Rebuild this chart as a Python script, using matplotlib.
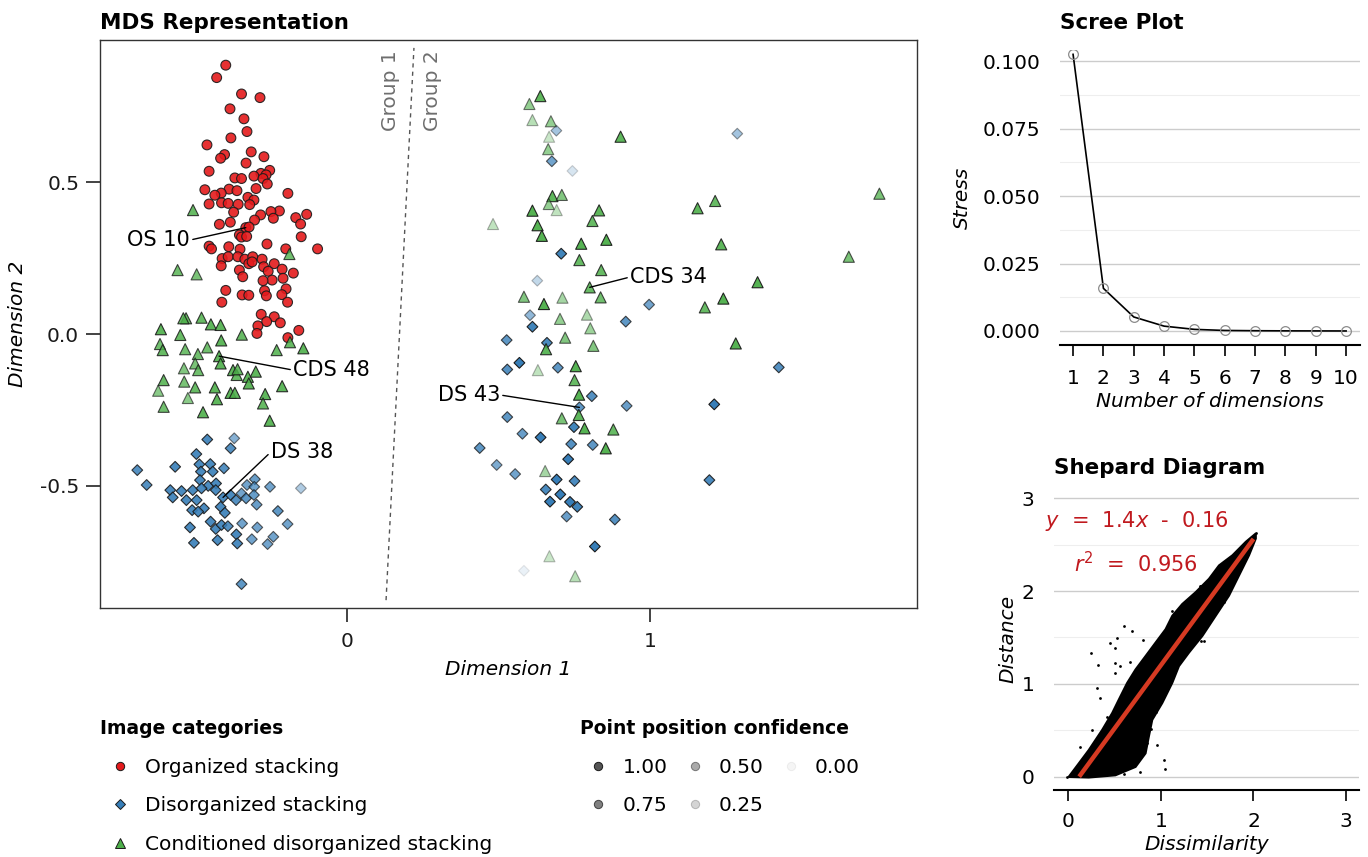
import matplotlib
matplotlib.use("Agg")
import matplotlib.pyplot as plt
from matplotlib.colors import to_rgba
from matplotlib.lines import Line2D
from matplotlib.ticker import MultipleLocator

plt.rcParams['font.family'] = ['DejaVu Sans']
plt.rcParams['mathtext.fontset'] = 'dejavusans'
plt.rcParams['axes.unicode_minus'] = False

# ---- MDS coordinates ----
os_x = [-0.400, -0.430, -0.348, -0.287, -0.386, -0.340, -0.330, -0.383, -0.462, -0.316,
        -0.404, -0.417, -0.274, -0.333, -0.455, -0.255, -0.284, -0.267, -0.370, -0.348,
        -0.307, -0.277, -0.263, -0.469, -0.389, -0.363, -0.300, -0.415, -0.436, -0.327,
        -0.307, -0.195, -0.455, -0.414, -0.392, -0.359, -0.321, -0.374, -0.223, -0.251,
        -0.285, -0.305, -0.243, -0.169, -0.133, -0.153, -0.421, -0.385, -0.334, -0.323,
        -0.355, -0.348, -0.331, -0.151, -0.264, -0.097, -0.455, -0.447, -0.390, -0.353,
        -0.202, -0.412, -0.392, -0.360, -0.337, -0.311, -0.324, -0.313, -0.280, -0.240,
        -0.415, -0.275, -0.260, -0.214, -0.177, -0.355, -0.344, -0.247, -0.277, -0.211,
        -0.400, -0.346, -0.324, -0.272, -0.266, -0.201, -0.215, -0.413, -0.196, -0.283,
        -0.240, -0.265, -0.220, -0.294, -0.297, -0.159, -0.195]
os_y = [0.887, 0.846, 0.792, 0.780, 0.743, 0.710, 0.668, 0.647, 0.624, 0.601,
        0.592, 0.580, 0.585, 0.564, 0.537, 0.540, 0.530, 0.525, 0.515, 0.513,
        0.521, 0.513, 0.495, 0.476, 0.478, 0.473, 0.480, 0.465, 0.458, 0.451,
        0.442, 0.464, 0.429, 0.433, 0.431, 0.428, 0.427, 0.402, 0.406, 0.404,
        0.393, 0.376, 0.382, 0.384, 0.395, 0.363, 0.362, 0.369, 0.351, 0.353,
        0.327, 0.320, 0.322, 0.321, 0.297, 0.281, 0.290, 0.281, 0.288, 0.280,
        0.281, 0.249, 0.255, 0.255, 0.247, 0.255, 0.232, 0.238, 0.247, 0.232,
        0.225, 0.222, 0.207, 0.214, 0.201, 0.211, 0.189, 0.178, 0.176, 0.184,
        0.144, 0.129, 0.128, 0.143, 0.126, 0.149, 0.130, 0.105, 0.105, 0.065,
        0.057, 0.041, 0.037, 0.027, 0.002, 0.012, -0.012]
os_conf = [0.9] * len(os_x)

ds_x = [-0.461, -0.384, -0.372, -0.497, -0.692, -0.567, -0.487, -0.451, -0.406, -0.482,
        -0.443, -0.661, -0.485, -0.458, -0.432, -0.433, -0.583, -0.546, -0.509, -0.480,
        -0.575, -0.530, -0.496, -0.409, -0.384, -0.366, -0.348, -0.330, -0.304, -0.306,
        -0.254, -0.152, -0.333, -0.307, -0.298, -0.417, -0.511, -0.472, -0.491, -0.403,
        -0.228, -0.196, -0.518, -0.450, -0.433, -0.414, -0.393, -0.346, -0.296, -0.243,
        -0.365, -0.505, -0.427, -0.362, -0.314, -0.262, -0.348,
        0.691, 0.676, 0.744, 1.288, 0.707, 0.628, 0.997, 0.604, 0.920, 0.612,
        0.527, 0.660, 0.569, 0.529, 0.696, 1.425, 0.808, 0.767, 0.923, 1.212,
        0.529, 0.749, 0.579, 0.639, 0.740, 0.811, 0.438, 0.730, 0.494, 0.555,
        0.692, 0.751, 1.196, 0.656, 0.704, 0.670, 0.736, 0.760, 0.725, 0.884,
        0.818, 0.584]
ds_y = [-0.348, -0.377, -0.344, -0.396, -0.449, -0.438, -0.430, -0.429, -0.443, -0.454,
        -0.454, -0.498, -0.482, -0.501, -0.493, -0.515, -0.515, -0.518, -0.515, -0.509,
        -0.539, -0.548, -0.548, -0.539, -0.531, -0.548, -0.526, -0.498, -0.479, -0.504,
        -0.504, -0.509, -0.542, -0.531, -0.563, -0.570, -0.581, -0.575, -0.586, -0.590,
        -0.584, -0.627, -0.638, -0.619, -0.643, -0.630, -0.634, -0.625, -0.638, -0.669,
        -0.661, -0.689, -0.680, -0.691, -0.677, -0.693, -0.825,
        0.671, 0.570, 0.538, 0.661, 0.265, 0.176, 0.097, 0.062, 0.041, 0.024,
        -0.020, -0.029, -0.095, -0.117, -0.111, -0.110, -0.205, -0.242, -0.237, -0.232,
        -0.274, -0.307, -0.329, -0.341, -0.363, -0.366, -0.376, -0.413, -0.432, -0.462,
        -0.480, -0.485, -0.482, -0.513, -0.529, -0.553, -0.554, -0.570, -0.602, -0.612,
        -0.701, -0.781]
ds_conf = [0.9, 0.85, 0.6, 0.9, 0.85, 0.9, 0.9, 0.9, 0.85, 0.9,
           0.9, 0.85, 0.9, 0.9, 0.9, 0.9, 0.9, 0.9, 0.9, 0.9,
           0.9, 0.9, 0.9, 0.9, 0.9, 0.85, 0.7, 0.7, 0.75, 0.7,
           0.7, 0.4, 0.8, 0.75, 0.75, 0.9, 0.9, 0.9, 0.9, 0.9,
           0.8, 0.7, 0.9, 0.9, 0.9, 0.9, 0.85, 0.7, 0.7, 0.7,
           0.9, 0.9, 0.9, 0.9, 0.7, 0.7, 0.8,
           0.45, 0.7, 0.2, 0.45, 0.95, 0.3, 0.7, 0.55, 0.8, 0.95,
           0.8, 0.9, 1.0, 0.85, 0.8, 0.85, 0.85, 0.8, 0.75, 1.0,
           0.8, 0.95, 0.75, 1.0, 0.85, 0.8, 0.8, 1.0, 0.65, 0.7,
           1.0, 0.9, 0.9, 0.9, 1.0, 1.0, 1.0, 0.95, 0.75, 0.85,
           1.0, 0.1]

cds_x = [-0.508, -0.559, -0.496, -0.190, -0.531, -0.540, -0.480, -0.449, -0.417, -0.614,
         -0.550, -0.347, -0.415, -0.617, -0.608, -0.534, -0.461, -0.232, -0.188, -0.144,
         -0.492, -0.422, -0.417, -0.501, -0.538, -0.491, -0.376, -0.364, -0.361, -0.327,
         -0.301, -0.324, -0.605, -0.537, -0.623, -0.501, -0.436, -0.384, -0.370, -0.270,
         -0.214, -0.525, -0.429, -0.605, -0.475, -0.277, -0.255,
         0.638, 0.602, 0.612, 0.673, 0.667, 0.664, 0.903, 0.678, 0.709, 0.666,
         0.692, 0.612, 0.832, 0.810, 0.629, 0.643, 0.482, 0.773, 0.856, 0.767,
         0.839, 0.801, 0.584, 0.650, 0.711, 0.837, 1.157, 1.215, 1.235, 1.355,
         1.242, 1.181, 1.656, 1.757, 0.792, 0.703, 0.803, 0.720, 0.657, 0.813,
         1.283, 0.630, 0.755, 0.751, 0.766, 0.765, 0.709, 0.784, 0.879, 0.854,
         0.654, 0.668, 0.753]
cds_y = [0.409, 0.211, 0.197, 0.264, 0.052, 0.052, 0.054, 0.032, 0.030, 0.016,
         -0.003, -0.002, -0.021, -0.033, -0.053, -0.050, -0.044, -0.053, -0.027, -0.047,
         -0.066, -0.073, -0.097, -0.097, -0.113, -0.119, -0.119, -0.135, -0.116, -0.141,
         -0.124, -0.163, -0.152, -0.157, -0.187, -0.176, -0.176, -0.194, -0.194, -0.198,
         -0.172, -0.211, -0.215, -0.240, -0.258, -0.229, -0.286,
         0.785, 0.759, 0.706, 0.702, 0.651, 0.610, 0.651, 0.455, 0.459, 0.429,
         0.409, 0.407, 0.408, 0.373, 0.359, 0.324, 0.363, 0.298, 0.311, 0.244,
         0.211, 0.154, 0.123, 0.099, 0.120, 0.121, 0.415, 0.439, 0.296, 0.171,
         0.117, 0.088, 0.255, 0.463, 0.064, 0.050, 0.019, -0.012, -0.050, -0.039,
         -0.031, -0.119, -0.106, -0.152, -0.200, -0.267, -0.278, -0.311, -0.315, -0.377,
         -0.452, -0.733, -0.799]
cds_conf = [0.85, 0.8, 0.75, 0.8, 0.85, 0.85, 0.85, 0.9, 0.9, 0.9,
            0.85, 0.85, 0.9, 0.8, 0.85, 0.8, 0.8, 0.85, 0.85, 0.9,
            0.8, 0.9, 0.9, 0.75, 0.7, 0.8, 0.9, 0.85, 0.85, 0.9,
            0.9, 0.9, 0.85, 0.75, 0.65, 0.85, 0.9, 0.9, 0.9, 0.9,
            0.9, 0.65, 0.9, 0.8, 0.9, 0.85, 0.9,
            0.9, 0.6, 0.4, 0.6, 0.3, 0.6, 0.9, 0.9, 0.7, 0.6,
            0.35, 0.95, 0.9, 0.85, 0.95, 0.95, 0.35, 0.95, 0.95, 0.85,
            0.85, 0.85, 0.7, 0.95, 0.5, 0.8, 0.9, 0.85, 0.9, 0.95,
            0.95, 0.85, 0.75, 0.75, 0.45, 0.6, 0.55, 0.7, 0.9, 0.7,
            0.95, 0.35, 0.95, 0.85, 0.95, 0.9, 0.75, 0.95, 0.85, 0.95,
            0.5, 0.3, 0.4]

# labelled samples
label_text = ["OS 10", "CDS 48", "DS 38", "CDS 34", "DS 43"]
label_px = [-0.334, -0.422, -0.409, 0.801, 0.767]
label_py = [0.351, -0.073, -0.539, 0.154, -0.242]
label_tx = [-0.518, -0.178, -0.251, 0.934, 0.505]
label_ty = [0.310, -0.119, -0.389, 0.188, -0.201]
label_ha = ["right", "left", "left", "left", "right"]

divider_x = [0.129, 0.221]
divider_y = [-0.878, 0.944]

# ---- scree ----
dims = [1, 2, 3, 4, 5, 6, 7, 8, 9, 10]
stress = [0.1025, 0.0158, 0.0052, 0.0018, 0.0006, 0.0002, 0.0001, 0.00005, 0.00003, 0.00001]

# ---- shepard: outline of the dense cloud plus the stray points ----
cloud_x = [0.006, 0.115, 0.223, 0.368, 0.476, 0.547, 0.638, 0.728, 0.836, 0.944,
           1.052, 1.124, 1.232, 1.376, 1.520, 1.628, 1.773, 1.917, 2.025,
           2.025, 1.952, 1.844, 1.736, 1.592, 1.449, 1.304, 1.196, 1.124, 1.016,
           0.908, 0.871, 0.836, 0.728, 0.511, 0.223]
cloud_y = [0.000, 0.145, 0.289, 0.506, 0.687, 0.831, 1.012, 1.156, 1.300, 1.445,
           1.589, 1.733, 1.860, 1.987, 2.131, 2.275, 2.384, 2.529, 2.619,
           2.564, 2.384, 2.167, 1.950, 1.733, 1.517, 1.337, 1.192, 1.012, 0.795,
           0.614, 0.433, 0.254, 0.108, 0.018, -0.006]
stray_x = [0.601, 0.692, 0.530, 0.457, 0.511, 0.806, 0.252, 0.324, 0.504, 0.565,
           0.663, 0.511, 0.314, 0.349, 1.034, 1.044, -0.008, 2.025, 1.419, 1.438,
           0.854, 0.962, 1.466, 1.682, 1.646, 1.430, 1.124, 0.133, 0.259,
           0.900, 0.950, 1.250, 1.330, 1.560, 1.700, 1.780, 0.420, 0.600, 0.780]
stray_y = [1.619, 1.571, 1.499, 1.445, 1.391, 1.473, 1.337, 1.203, 1.229, 1.192,
           1.235, 1.120, 0.958, 0.849, 0.181, 0.091, 0.000, 2.626, 2.059, 1.463,
           0.361, 0.343, 1.463, 1.879, 2.275, 2.059, 1.788, 0.325, 0.506,
           0.520, 0.700, 1.330, 1.440, 1.800, 2.050, 2.200, 0.640, 0.030, 0.050]
fit_slope = 1.36
fit_icpt = -0.16
fit_range = [0.12, 2.0]

RED, BLUE, GREEN = '#E41A1C', '#377EB8', '#4DAF4A'
EDGE = '#1a1a1a'
FS = 14.5       # ticks, axis labels, legend entries
FS_LAB = 15     # point labels
FS_TITLE = 15.5
FS_LEG_TITLE = 13.5


def rgba(c, alphas):
    return [to_rgba(c, a) for a in alphas]


fig = plt.figure(figsize=(13.68, 8.57), dpi=100)

# ================= MDS panel =================
ax = fig.add_axes([0.0731, 0.2905, 0.5972, 0.6628])
ax.scatter(os_x, os_y, s=50, marker='o', facecolors=rgba(RED, os_conf),
           edgecolors=rgba(EDGE, os_conf), linewidths=0.8, zorder=3)
ax.scatter(ds_x, ds_y, s=30, marker='D', facecolors=rgba(BLUE, ds_conf),
           edgecolors=rgba(EDGE, ds_conf), linewidths=0.8, zorder=3)
ax.scatter(cds_x, cds_y, s=64, marker='^', facecolors=rgba(GREEN, cds_conf),
           edgecolors=rgba(EDGE, cds_conf), linewidths=0.8, zorder=3)

ax.plot(divider_x, divider_y, color='#555555', lw=1.0, ls=(0, (3, 3)), zorder=2)
ax.text(0.142, 0.935, "Group 1", rotation=90, ha='center', va='top', fontsize=FS, color='#6e6e6e')
ax.text(0.281, 0.935, "Group 2", rotation=90, ha='center', va='top', fontsize=FS, color='#6e6e6e')

for t, px, py, tx, ty, ha in zip(label_text, label_px, label_py, label_tx, label_ty, label_ha):
    rel = (1, 0.5) if ha == 'right' else (0, 0.5)
    ax.annotate(t, xy=(px, py), xytext=(tx, ty), ha=ha, va='center', fontsize=FS_LAB,
                color='black', zorder=5,
                arrowprops=dict(arrowstyle='-', color='black', lw=1.0, relpos=rel,
                                shrinkA=0, shrinkB=0))

ax.set_xlim(-0.815, 1.881)
ax.set_ylim(-0.904, 0.970)
ax.set_xticks([0, 1])
ax.set_xticklabels(["0", "1"])
ax.set_yticks([-0.5, 0.0, 0.5])
ax.set_yticklabels(["-0.5", "0.0", "0.5"])
ax.tick_params(labelsize=FS, length=10, width=1.2, color='#222222', labelcolor='#1a1a1a', pad=5)
ax.tick_params(axis='x', pad=7)
for sp in ax.spines.values():
    sp.set_color('#333333')
    sp.set_linewidth(1.0)
ax.set_xlabel("Dimension 1", fontsize=FS, style='italic', labelpad=7)
ax.set_ylabel("Dimension 2", fontsize=FS, style='italic', labelpad=9)
ax.set_title("MDS Representation", loc='left', fontsize=FS_TITLE, fontweight='bold', pad=8)

# legends
cat_handles = [Line2D([], [], ls='', marker='o', ms=6, mfc=RED, mec=EDGE, mew=0.7),
               Line2D([], [], ls='', marker='D', ms=5, mfc=BLUE, mec=EDGE, mew=0.7),
               Line2D([], [], ls='', marker='^', ms=6.5, mfc=GREEN, mec=EDGE, mew=0.7)]
cat_labels = ["Organized stacking", "Disorganized stacking", "Conditioned disorganized stacking"]
fig.legend(cat_handles, cat_labels, loc='upper left', bbox_to_anchor=(0.0731, 0.161),
           frameon=False, title="Image categories", alignment='left',
           title_fontproperties={'weight': 'bold', 'size': FS_LEG_TITLE}, fontsize=FS,
           borderpad=0, borderaxespad=0, labelspacing=0.97, handlelength=2.0,
           handletextpad=0.25)

conf_levels = [1.00, 0.75, 0.50, 0.25, 0.00]
conf_handles = [Line2D([], [], ls='', marker='o', ms=6, mfc=to_rgba('#555555', max(c, 0.06)),
                       mec=to_rgba(EDGE, max(c, 0.06)), mew=0.7) for c in conf_levels]
conf_labels = [f"{c:.2f}" for c in conf_levels]
fig.legend(conf_handles, conf_labels, loc='upper left', bbox_to_anchor=(0.424, 0.161),
           frameon=False, title="Point position confidence", alignment='left', ncol=3,
           title_fontproperties={'weight': 'bold', 'size': FS_LEG_TITLE}, fontsize=FS,
           borderpad=0, borderaxespad=0, labelspacing=0.97, handlelength=1.8,
           handletextpad=0.3, columnspacing=0.45)


def style_side(a):
    for s in ['left', 'top', 'right']:
        a.spines[s].set_visible(False)
    a.spines['bottom'].set_color('black')
    a.spines['bottom'].set_linewidth(1.5)
    a.grid(axis='y', which='major', color='#cccccc', lw=1.0)
    a.grid(axis='y', which='minor', color='#eeeeee', lw=0.8)
    a.set_axisbelow(True)
    a.tick_params(axis='y', which='both', length=0, labelsize=FS, pad=14)
    a.tick_params(axis='x', length=8, width=1.2, labelsize=FS, color='black', pad=9)


# ================= Scree plot =================
ax2 = fig.add_axes([0.7749, 0.5974, 0.2193, 0.3442])
ax2.plot(dims, stress, color='black', lw=1.2, zorder=2)
ax2.plot(dims, stress, ls='', marker='o', ms=7, mfc='none', mec='#8c8c8c', mew=0.9, zorder=3)
ax2.set_xlim(0.571, 10.46)
ax2.set_ylim(-0.0052, 0.1041)
ax2.set_xticks(dims)
ax2.set_yticks([0, 0.025, 0.05, 0.075, 0.1])
ax2.set_yticklabels(["0.000", "0.025", "0.050", "0.075", "0.100"])
ax2.yaxis.set_minor_locator(MultipleLocator(0.0125))
style_side(ax2)
ax2.set_xlabel("Number of dimensions", fontsize=FS, style='italic', labelpad=3)
ax2.set_ylabel("Stress", fontsize=FS, style='italic', labelpad=8)
ax2.set_title("Scree Plot", loc='left', fontsize=FS_TITLE, fontweight='bold', pad=15)

# ================= Shepard diagram =================
ax3 = fig.add_axes([0.7705, 0.0782, 0.2230, 0.3524])
ax3.fill(cloud_x, cloud_y, color='black', lw=1.5, zorder=2)
ax3.scatter(stray_x, stray_y, s=4, color='black', lw=0, zorder=2)
ax3.plot(fit_range, [fit_slope * v + fit_icpt for v in fit_range], color='#D63A22',
         lw=3.2, solid_capstyle='butt', zorder=3)
ax3.set_xlim(-0.151, 3.139)
ax3.set_ylim(-0.140, 3.108)
ax3.set_xticks([0, 1, 2, 3])
ax3.set_yticks([0, 1, 2, 3])
ax3.yaxis.set_minor_locator(MultipleLocator(0.5))
style_side(ax3)
ax3.tick_params(axis='x', pad=8)
ax3.text(0.738, 2.75, r"$y$  =  1.4$x$  -  0.16", ha='center', va='center', fontsize=FS_LAB,
         color='#C0191E', clip_on=False)
ax3.text(0.728, 2.29, r"$r^2$  =  0.956", ha='center', va='center', fontsize=FS_LAB,
         color='#C0191E', clip_on=False)
ax3.set_xlabel("Dissimilarity", fontsize=FS, style='italic', labelpad=3)
ax3.set_ylabel("Distance", fontsize=FS, style='italic', labelpad=3)
ax3.set_title("Shepard Diagram", loc='left', fontsize=FS_TITLE, fontweight='bold', pad=10)

fig.savefig("out.png", dpi=100)
